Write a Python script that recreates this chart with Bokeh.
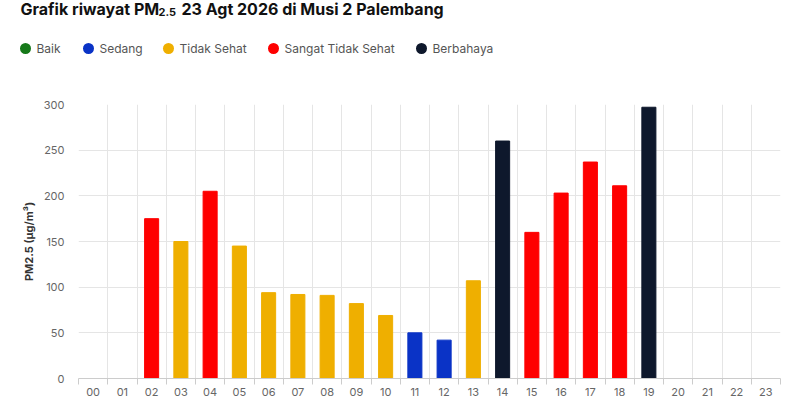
from bokeh.plotting import figure
from bokeh.layouts import column
from bokeh.models import Range1d, FixedTicker, ColumnDataSource
from bokeh.embed import file_html
from bokeh.resources import INLINE
from bokeh.core.properties import value

# ---- data ----
hours = ["00", "01", "02", "03", "04", "05", "06", "07", "08", "09", "10", "11",
         "12", "13", "14", "15", "16", "17", "18", "19", "20", "21", "22", "23"]
pm25 = [None, None, 175, 150, 205, 145, 94, 92, 91, 82, 69, 50,
        42, 107, 260, 160, 203, 237, 211, 297, None, None, None, None]
category = [None, None, "Sangat Tidak Sehat", "Tidak Sehat", "Sangat Tidak Sehat", "Tidak Sehat",
            "Tidak Sehat", "Tidak Sehat", "Tidak Sehat", "Tidak Sehat", "Tidak Sehat", "Sedang",
            "Sedang", "Tidak Sehat", "Berbahaya", "Sangat Tidak Sehat", "Sangat Tidak Sehat",
            "Sangat Tidak Sehat", "Sangat Tidak Sehat", "Berbahaya", None, None, None, None]
legend_labels = ["Baik", "Sedang", "Tidak Sehat", "Sangat Tidak Sehat", "Berbahaya"]
legend_colors = ["#16791a", "#0a33c6", "#efaf00", "#fe0000", "#0e182c"]
y_ticks = [0, 50, 100, 150, 200, 250, 300]
title_main = "Grafik riwayat PM"
title_sub = "2.5"
title_rest = "23 Agt 2026 di Musi 2 Palembang"
y_label = "PM2.5 (µg/m³)"

color_of = dict(zip(legend_labels, legend_colors))

FONT = "Inter"
GRID = "#e5e5e5"
TICK_TXT = "#666666"
W = 800
HEAD_H = 60

# ---- header (title + legend) as its own pixel-mapped figure ----
head = figure(width=W, height=HEAD_H, x_range=Range1d(0, W), y_range=Range1d(HEAD_H, 0),
              output_backend="svg", toolbar_location=None,
              min_border=0, min_border_left=0, min_border_right=0,
              min_border_top=0, min_border_bottom=0)
head.axis.visible = False
head.grid.visible = False
head.outline_line_color = None
head.frame_align = False

head.text(x=[20], y=[8], text=[title_main], text_font=value(FONT), text_font_size="16px",
          text_font_style="bold", text_color="#111111", text_baseline="alphabetic")
head.text(x=[158], y=[11], text=[title_sub], text_font=value(FONT), text_font_size="11px",
          text_font_style="bold", text_color="#111111", text_baseline="alphabetic")
head.text(x=[181], y=[8], text=[title_rest], text_font=value(FONT), text_font_size="16px",
          text_font_style="bold", text_color="#111111", text_baseline="alphabetic")

legend_x = [25, 88, 168, 273, 421]  # swatch positions (layout)
LEG_Y = 48
head.scatter(x=legend_x, y=[LEG_Y] * len(legend_x), marker="circle", size=11,
             color=legend_colors, line_color=None)
head.text(x=[lx + 11 for lx in legend_x], y=[LEG_Y] * len(legend_x), text=legend_labels,
          text_font=value(FONT), text_font_size="12px", text_color="#555555",
          text_baseline="middle")

# ---- main chart ----
p = figure(width=W, height=400 - HEAD_H, x_range=Range1d(-0.5, 23.5), y_range=Range1d(0, 300),
           output_backend="svg", toolbar_location=None,
           min_border_left=78, min_border_right=20, min_border_top=44, min_border_bottom=22)
p.outline_line_color = None
p.frame_align = False

xs = [i for i, v in enumerate(pm25) if v is not None]
src = ColumnDataSource(dict(
    x=xs,
    top=[pm25[i] for i in xs],
    color=[color_of[category[i]] for i in xs],
))
p.vbar(x="x", top="top", width=0.48, bottom=0, color="color", source=src)

centers = list(range(len(hours)))
bounds = [i - 0.5 for i in range(len(hours) + 1)]
p.xaxis.ticker = FixedTicker(ticks=centers, minor_ticks=bounds)
p.xaxis.major_label_overrides = {i: h for i, h in enumerate(hours)}
p.xaxis.major_tick_line_color = None
p.xaxis.major_tick_out = 0
p.xaxis.major_tick_in = 0
p.xaxis.minor_tick_line_color = "#cccccc"
p.xaxis.minor_tick_out = 6
p.xaxis.minor_tick_in = 0
p.xaxis.axis_line_color = "#cccccc"
p.xaxis.major_label_text_font = FONT
p.xaxis.major_label_text_font_size = "11px"
p.xaxis.major_label_text_color = TICK_TXT
p.xaxis.major_label_standoff = 3

p.yaxis.ticker = FixedTicker(ticks=y_ticks)
p.yaxis.axis_line_color = None
p.yaxis.major_tick_line_color = None
p.yaxis.minor_tick_line_color = None
p.yaxis.major_tick_out = 0
p.yaxis.major_tick_in = 0
p.yaxis.major_label_text_font = FONT
p.yaxis.major_label_text_font_size = "11px"
p.yaxis.major_label_text_color = TICK_TXT
p.yaxis.major_label_standoff = 14
p.yaxis.axis_label = y_label
p.yaxis.axis_label_text_font = FONT
p.yaxis.axis_label_text_font_size = "11px"
p.yaxis.axis_label_text_font_style = "bold"
p.yaxis.axis_label_text_color = "#333333"
p.yaxis.axis_label_standoff = 5

p.xgrid.grid_line_color = None
p.xgrid.minor_grid_line_color = GRID
p.ygrid.grid_line_color = GRID

layout = column(head, p, spacing=0)
open("out.html", "w").write(file_html(layout, INLINE))
